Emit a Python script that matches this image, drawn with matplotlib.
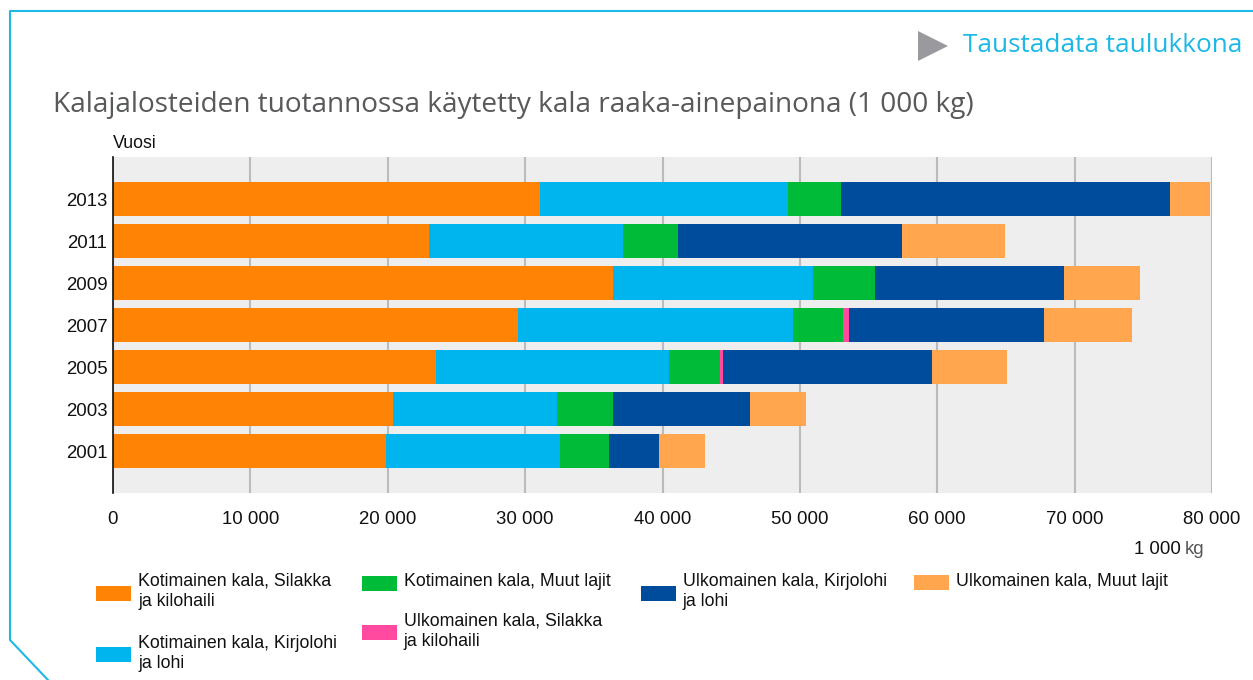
import matplotlib.pyplot as plt
from matplotlib.patches import Rectangle, Polygon
from matplotlib.lines import Line2D
from matplotlib.ticker import FuncFormatter

W, H = 1253, 680

years = ["2001", "2003", "2005", "2007", "2009", "2011", "2013"]

# 1 000 kg, stacked left to right
kot_silakka = [19870, 20380, 23510, 29500, 36390, 23000, 31080]
kot_kirjolohi = [12690, 11910, 16960, 19990, 14580, 14120, 18050]
kot_muut = [3540, 4100, 3710, 3640, 4510, 4000, 3870]
ulk_silakka = [0, 0, 200, 460, 0, 0, 0]
ulk_kirjolohi = [3660, 9950, 15230, 14190, 13780, 16325, 23930]
ulk_muut = [3330, 4120, 5500, 6380, 5490, 7475, 2910]

series = [
    ("Kotimainen kala, Silakka\nja kilohaili", kot_silakka, "#FF8405"),
    ("Kotimainen kala, Kirjolohi\nja lohi", kot_kirjolohi, "#00B5EE"),
    ("Kotimainen kala, Muut lajit", kot_muut, "#00BB38"),
    ("Ulkomainen kala, Silakka\nja kilohaili", ulk_silakka, "#FF4AA0"),
    ("Ulkomainen kala, Kirjolohi\nja lohi", ulk_kirjolohi, "#004C9C"),
    ("Ulkomainen kala, Muut lajit", ulk_muut, "#FFA64F"),
]

plt.rcParams['font.family'] = ['Liberation Sans', 'DejaVu Sans']


def px(x, y):
    return x / W, 1 - y / H


fig = plt.figure(figsize=(W / 100, H / 100), dpi=100)
ax = fig.add_axes([113 / W, 1 - 493 / H, (1212 - 113) / W, (493 - 157) / H])
ax.set_facecolor("#EEEEEE")

pos = list(range(len(years)))
left = [0] * len(years)
for label, vals, col in series:
    ax.barh(pos, vals, left=left, height=0.8, color=col, label=label)
    left = [a + b for a, b in zip(left, vals)]

ax.set_xlim(0, 80000)
ax.set_ylim(-1, len(years))
ax.set_yticks(pos)
ax.set_yticklabels(years)
ax.set_xticks(range(0, 80001, 10000))
ax.xaxis.set_major_formatter(FuncFormatter(lambda v, p: f"{int(v):,}".replace(",", " ")))
ax.tick_params(axis="both", length=0, labelsize=13.4, colors="#111111")
ax.tick_params(axis="x", pad=13)
ax.tick_params(axis="y", pad=4)
ax.grid(axis="x", color="#BBBBBB", linewidth=1.5)
ax.set_axisbelow(True)
for s in ["top", "right", "bottom"]:
    ax.spines[s].set_visible(False)
ax.spines["left"].set_color("#111111")
ax.spines["left"].set_linewidth(1.2)
ax.spines["left"].set_zorder(5)

# axis captions
fig.text(*px(113, 143), "Vuosi", fontsize=12.8, va="center", ha="left", color="#111111")
fig.text(*px(1181, 550), "1 000", fontsize=13.4, va="center", ha="right", color="#111111")
fig.text(*px(1185, 549), "kg", fontsize=13.4, va="center", ha="left", color="#555555")

# title and link
fig.text(*px(53, 105), "Kalajalosteiden tuotannossa käytetty kala raaka-ainepainona (1 000 kg)",
         fontsize=20.2, family="Open Sans", color="#58595B", va="center", ha="left")
fig.text(*px(963, 46), "Taustadata taulukkona", fontsize=18.8, family="Open Sans",
         color="#1DB8E5", va="center", ha="left")
fig.add_artist(Polygon([px(918, 31), px(948, 46), px(918, 61)], closed=True,
                       facecolor="#9A9A9E", edgecolor="none", transform=fig.transFigure))

# outer frame
fig.add_artist(Line2D([1, 10 / W, 10 / W, 48 / W], [1 - 11 / H, 1 - 11 / H, 1 - 640 / H, 0],
                      color="#1DB8E5", linewidth=1.5, transform=fig.transFigure))

# legend, drawn by hand
legend_pos = [
    (96, 593, [581, 602]),
    (96, 654, [643, 663]),
    (362, 583, [582]),
    (362, 632, [621, 642]),
    (641, 593, [581, 602]),
    (914, 582, [582]),
]
for (label, vals, col), (lx, ly, lines) in zip(series, legend_pos):
    fig.add_artist(Rectangle(px(lx, ly + 7.5), 35 / W, 15 / H, facecolor=col,
                             edgecolor="none", transform=fig.transFigure))
    for txt, ty in zip(label.split("\n"), lines):
        fig.text(*px(lx + 42, ty), txt, fontsize=12.8, va="center", ha="left", color="#111111")

fig.savefig("out.png", dpi=100)
